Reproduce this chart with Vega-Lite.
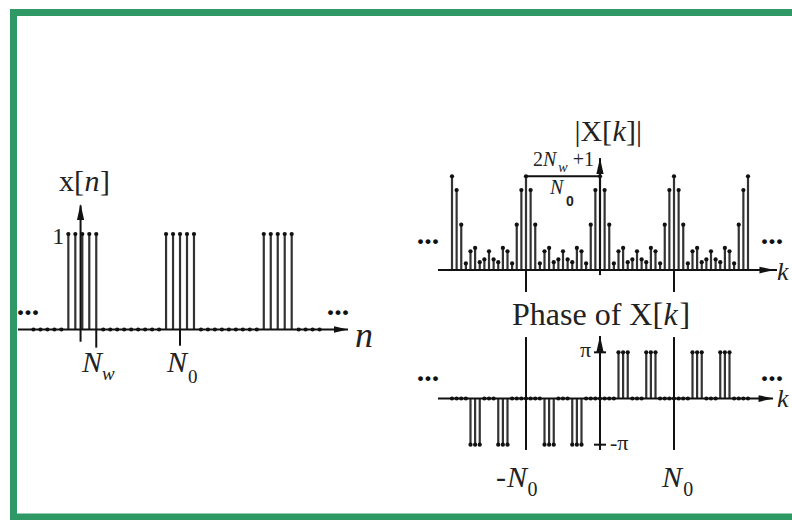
{
  "$schema": "https://vega.github.io/schema/vega-lite/v6.json",
  "width": 789,
  "height": 504.5,
  "autosize": {"type": "none"},
  "padding": {"left": 13.5, "top": 12.5, "right": -10.5, "bottom": 3},
  "background": "white",
  "config": {"view": {"stroke": "#2f9966", "strokeWidth": 7}},
  "datasets": {
    "xn": [
      {"n": -7, "v": 0}, {"n": -6, "v": 0}, {"n": -5, "v": 0}, {"n": -4, "v": 0}, {"n": -3, "v": 0},
      {"n": -2, "v": 1}, {"n": -1, "v": 1}, {"n": 0, "v": 1}, {"n": 1, "v": 1}, {"n": 2, "v": 1},
      {"n": 3, "v": 0}, {"n": 4, "v": 0}, {"n": 5, "v": 0}, {"n": 6, "v": 0}, {"n": 7, "v": 0},
      {"n": 8, "v": 0}, {"n": 9, "v": 0}, {"n": 10, "v": 0}, {"n": 11, "v": 0},
      {"n": 12, "v": 1}, {"n": 13, "v": 1}, {"n": 14, "v": 1}, {"n": 15, "v": 1}, {"n": 16, "v": 1},
      {"n": 17, "v": 0}, {"n": 18, "v": 0}, {"n": 19, "v": 0}, {"n": 20, "v": 0}, {"n": 21, "v": 0},
      {"n": 22, "v": 0}, {"n": 23, "v": 0}, {"n": 24, "v": 0}, {"n": 25, "v": 0},
      {"n": 26, "v": 1}, {"n": 27, "v": 1}, {"n": 28, "v": 1}, {"n": 29, "v": 1}, {"n": 30, "v": 1},
      {"n": 31, "v": 0}, {"n": 32, "v": 0}, {"n": 33, "v": 0}, {"n": 34, "v": 0}
    ],
    "leftRules": [
      {"n": -9.21, "n2": 38.07, "v": 0, "v2": 0},
      {"n": -0.25, "n2": -0.25, "v": -0.128, "v2": 1.3},
      {"n": 2, "n2": 2, "v": 0, "v2": -0.19},
      {"n": 14, "n2": 14, "v": 0, "v2": -0.17}
    ],
    "leftArrowR": [{"n": 37.06, "v": 0}],
    "leftArrowU": [{"n": -0.25, "v": 1.23}],
    "leftTextSerif30": [
      {"n": -3.338, "v": 1.4503, "t": "x["},
      {"n": 2.536, "v": 1.4503, "t": "]"}
    ],
    "leftTextItalic30": [
      {"n": 0.315, "v": 1.4503, "t": "n"},
      {"n": -0.043, "v": -0.445, "t": "N"},
      {"n": 12.135, "v": -0.445, "t": "N"}
    ],
    "leftTextItalic36": [{"n": 39.07, "v": -0.1832, "t": "n"}],
    "leftTextItalic19": [{"n": 2.822, "v": -0.529, "t": "w"}],
    "leftTextSerif19": [{"n": 15.14, "v": -0.56, "t": "0"}],
    "leftTextSerif24": [{"n": -4.3, "v": 0.9, "t": "1"}],
    "leftDots": [
      {"n": -9.39, "v": 0.1518, "t": "..."},
      {"n": 35.02, "v": 0.1518, "t": "..."}
    ],
    "xk": [
      {"k": -32, "m": 0.3125}, {"k": -31, "m": 0.2664}, {"k": -30, "m": 0.1509}, {"k": -29, "m": 0.0219},
      {"k": -28, "m": 0.0625}, {"k": -27, "m": 0.0737}, {"k": -26, "m": 0.0259}, {"k": -25, "m": 0.0354},
      {"k": -24, "m": 0.0625}, {"k": -23, "m": 0.0354}, {"k": -22, "m": 0.0259}, {"k": -21, "m": 0.0737},
      {"k": -20, "m": 0.0625}, {"k": -19, "m": 0.0219}, {"k": -18, "m": 0.1509}, {"k": -17, "m": 0.2664},
      {"k": -16, "m": 0.3125}, {"k": -15, "m": 0.2664}, {"k": -14, "m": 0.1509}, {"k": -13, "m": 0.0219},
      {"k": -12, "m": 0.0625}, {"k": -11, "m": 0.0737}, {"k": -10, "m": 0.0259}, {"k": -9, "m": 0.0354},
      {"k": -8, "m": 0.0625}, {"k": -7, "m": 0.0354}, {"k": -6, "m": 0.0259}, {"k": -5, "m": 0.0737},
      {"k": -4, "m": 0.0625}, {"k": -3, "m": 0.0219}, {"k": -2, "m": 0.1509}, {"k": -1, "m": 0.2664},
      {"k": 0, "m": 0.3125},
      {"k": 1, "m": 0.2664}, {"k": 2, "m": 0.1509}, {"k": 3, "m": 0.0219}, {"k": 4, "m": 0.0625},
      {"k": 5, "m": 0.0737}, {"k": 6, "m": 0.0259}, {"k": 7, "m": 0.0354}, {"k": 8, "m": 0.0625},
      {"k": 9, "m": 0.0354}, {"k": 10, "m": 0.0259}, {"k": 11, "m": 0.0737}, {"k": 12, "m": 0.0625},
      {"k": 13, "m": 0.0219}, {"k": 14, "m": 0.1509}, {"k": 15, "m": 0.2664}, {"k": 16, "m": 0.3125},
      {"k": 17, "m": 0.2664}, {"k": 18, "m": 0.1509}, {"k": 19, "m": 0.0219}, {"k": 20, "m": 0.0625},
      {"k": 21, "m": 0.0737}, {"k": 22, "m": 0.0259}, {"k": 23, "m": 0.0354}, {"k": 24, "m": 0.0625},
      {"k": 25, "m": 0.0354}, {"k": 26, "m": 0.0259}, {"k": 27, "m": 0.0737}, {"k": 28, "m": 0.0625},
      {"k": 29, "m": 0.0219}, {"k": 30, "m": 0.1509}, {"k": 31, "m": 0.2664}, {"k": 32, "m": 0.3125}
    ],
    "topRules": [
      {"k": -35.03, "k2": 38.27, "m": 0, "m2": 0},
      {"k": 0, "k2": 0, "m": -0.017, "m2": 0.373},
      {"k": -16, "k2": -16, "m": 0, "m2": -0.0733},
      {"k": 16, "k2": 16, "m": 0, "m2": -0.0733},
      {"k": -16, "k2": 0, "m": 0.3125, "m2": 0.3125}
    ],
    "topArrowR": [{"k": 36.1, "m": 0}],
    "topArrowU": [{"k": 0, "m": 0.3467}],
    "topTextSerif30": [
      {"k": -5.535, "m": 0.43, "t": "|X["},
      {"k": 5.622, "m": 0.43, "t": "]|"}
    ],
    "topTextItalic30": [{"k": 2.703, "m": 0.43, "t": "k"}],
    "topTextSerif20": [
      {"k": -14.486, "m": 0.3467, "t": "2"},
      {"k": -5.9, "m": 0.3467, "t": "+1"}
    ],
    "topTextItalic20": [
      {"k": -12.324, "m": 0.3467, "t": "N"},
      {"k": -10.811, "m": 0.2533, "t": "N"}
    ],
    "topTextItalic14": [{"k": -9.0, "m": 0.3267, "t": "w"}],
    "topTextSans14": [{"k": -7.351, "m": 0.2133, "t": "0"}],
    "topDots": [
      {"k": -39.62, "m": 0.0867, "t": "..."},
      {"k": 34.76, "m": 0.0867, "t": "..."}
    ],
    "topTextItalic26": [{"k": 38.27, "m": -0.0333, "t": "k"}],
    "phase": [
      {"k": -32, "p": 0}, {"k": -31, "p": 0}, {"k": -30, "p": 0}, {"k": -29, "p": 0},
      {"k": -28, "p": -3.1416}, {"k": -27, "p": -3.1416}, {"k": -26, "p": -3.1416}, {"k": -25, "p": 0},
      {"k": -24, "p": 0}, {"k": -23, "p": 0}, {"k": -22, "p": -3.1416}, {"k": -21, "p": -3.1416},
      {"k": -20, "p": -3.1416}, {"k": -19, "p": 0}, {"k": -18, "p": 0}, {"k": -17, "p": 0},
      {"k": -16, "p": 0}, {"k": -15, "p": 0}, {"k": -14, "p": 0}, {"k": -13, "p": 0},
      {"k": -12, "p": -3.1416}, {"k": -11, "p": -3.1416}, {"k": -10, "p": -3.1416}, {"k": -9, "p": 0},
      {"k": -8, "p": 0}, {"k": -7, "p": 0}, {"k": -6, "p": -3.1416}, {"k": -5, "p": -3.1416},
      {"k": -4, "p": -3.1416}, {"k": -3, "p": 0}, {"k": -2, "p": 0}, {"k": -1, "p": 0},
      {"k": 0, "p": 0},
      {"k": 1, "p": 0}, {"k": 2, "p": 0}, {"k": 3, "p": 0}, {"k": 4, "p": 3.1416},
      {"k": 5, "p": 3.1416}, {"k": 6, "p": 3.1416}, {"k": 7, "p": 0}, {"k": 8, "p": 0},
      {"k": 9, "p": 0}, {"k": 10, "p": 3.1416}, {"k": 11, "p": 3.1416}, {"k": 12, "p": 3.1416},
      {"k": 13, "p": 0}, {"k": 14, "p": 0}, {"k": 15, "p": 0}, {"k": 16, "p": 0},
      {"k": 17, "p": 0}, {"k": 18, "p": 0}, {"k": 19, "p": 0}, {"k": 20, "p": 3.1416},
      {"k": 21, "p": 3.1416}, {"k": 22, "p": 3.1416}, {"k": 23, "p": 0}, {"k": 24, "p": 0},
      {"k": 25, "p": 0}, {"k": 26, "p": 3.1416}, {"k": 27, "p": 3.1416}, {"k": 28, "p": 3.1416},
      {"k": 29, "p": 0}, {"k": 30, "p": 0}, {"k": 31, "p": 0}, {"k": 32, "p": 0}
    ],
    "botRules": [
      {"k": -35.03, "k2": 37.4, "p": 0, "p2": 0},
      {"k": 0, "k2": 0, "p": -3.5, "p2": 4.25},
      {"k": -16, "k2": -16, "p": -3.5, "p2": 4.18},
      {"k": 16, "k2": 16, "p": -3.5, "p2": 4.18},
      {"k": -1.3, "k2": 1.3, "p": 3.1416, "p2": 3.1416},
      {"k": -1.3, "k2": 1.3, "p": -3.1416, "p2": -3.1416}
    ],
    "botArrowR": [{"k": 35.9, "p": 0}],
    "botArrowU": [{"k": 0, "p": 3.71}],
    "botTextSerif32": [
      {"k": -19.027, "p": 5.0, "t": "Phase of X["},
      {"k": 17.189, "p": 5.0, "t": "]"}
    ],
    "botTextItalic32": [{"k": 13.73, "p": 5.0, "t": "k"}],
    "botTextSerif22": [
      {"k": -4.324, "p": 2.823, "t": "π"},
      {"k": 2.162, "p": -3.503, "t": "-π"}
    ],
    "botTextSerif30": [{"k": -22.5, "p": -6.02, "t": "-"}],
    "botTextItalic30": [
      {"k": -20.108, "p": -6.02, "t": "N"},
      {"k": 13.405, "p": -6.02, "t": "N"}
    ],
    "botTextSerif20": [
      {"k": -15.7, "p": -6.633, "t": "0"},
      {"k": 18.0, "p": -6.633, "t": "0"}
    ],
    "botDots": [
      {"k": -39.62, "p": 1.19, "t": "..."},
      {"k": 34.76, "p": 1.19, "t": "..."}
    ],
    "botTextItalic26": [{"k": 38.27, "p": -0.578, "t": "k"}]
  },
  "layer": [
    {
      "encoding": {
        "x": {"field": "n", "type": "quantitative", "scale": {"domain": [-9.8567, 103.181], "nice": false, "zero": false}, "axis": null},
        "y": {"field": "v", "type": "quantitative", "scale": {"domain": [-1.9634, 3.3194], "nice": false, "zero": false}, "axis": null}
      },
      "layer": [
        {"data": {"name": "xn"}, "mark": {"type": "rule", "color": "#333333", "strokeWidth": 2.2}, "encoding": {"y2": {"datum": 0}}},
        {"data": {"name": "xn"}, "mark": {"type": "point", "filled": true, "shape": "circle", "size": 18, "color": "#111111", "opacity": 1}},
        {"data": {"name": "leftRules"}, "mark": {"type": "rule", "color": "#111111", "strokeWidth": 2}, "encoding": {"x2": {"field": "n2"}, "y2": {"field": "v2"}}},
        {"data": {"name": "leftArrowR"}, "mark": {"type": "point", "filled": true, "shape": "M-1,-0.45L1,0L-1,0.45Z", "size": 196, "color": "#111111", "opacity": 1}},
        {"data": {"name": "leftArrowU"}, "mark": {"type": "point", "filled": true, "shape": "M-0.45,1L0,-1L0.45,1Z", "size": 256, "color": "#111111", "opacity": 1}},
        {"data": {"name": "leftTextSerif30"}, "mark": {"type": "text", "font": "Liberation Serif", "fontSize": 30, "align": "left", "baseline": "alphabetic", "color": "#222222"}, "encoding": {"text": {"field": "t"}}},
        {"data": {"name": "leftTextItalic30"}, "mark": {"type": "text", "font": "Liberation Serif", "fontStyle": "italic", "fontSize": 30, "align": "left", "baseline": "alphabetic", "color": "#222222"}, "encoding": {"text": {"field": "t"}}},
        {"data": {"name": "leftTextItalic36"}, "mark": {"type": "text", "font": "Liberation Serif", "fontStyle": "italic", "fontSize": 36, "align": "left", "baseline": "alphabetic", "color": "#222222"}, "encoding": {"text": {"field": "t"}}},
        {"data": {"name": "leftTextItalic19"}, "mark": {"type": "text", "font": "Liberation Serif", "fontStyle": "italic", "fontSize": 19, "align": "left", "baseline": "alphabetic", "color": "#222222"}, "encoding": {"text": {"field": "t"}}},
        {"data": {"name": "leftTextSerif19"}, "mark": {"type": "text", "font": "Liberation Serif", "fontSize": 19, "align": "left", "baseline": "alphabetic", "color": "#222222"}, "encoding": {"text": {"field": "t"}}},
        {"data": {"name": "leftTextSerif24"}, "mark": {"type": "text", "font": "Liberation Serif", "fontSize": 24, "align": "left", "baseline": "alphabetic", "color": "#222222"}, "encoding": {"text": {"field": "t"}}},
        {"data": {"name": "leftDots"}, "mark": {"type": "text", "font": "Liberation Serif", "fontWeight": "bold", "fontSize": 30, "align": "left", "baseline": "alphabetic", "color": "#111111"}, "encoding": {"text": {"field": "t"}}}
      ]
    },
    {
      "encoding": {
        "x": {"field": "k", "type": "quantitative", "scale": {"domain": [-126.811, 43.784], "nice": false, "zero": false}, "axis": null},
        "y": {"field": "m", "type": "quantitative", "scale": {"domain": [-0.82333, 0.85833], "nice": false, "zero": false}, "axis": null}
      },
      "layer": [
        {"data": {"name": "xk"}, "mark": {"type": "rule", "color": "#333333", "strokeWidth": 2.2}, "encoding": {"y2": {"datum": 0}}},
        {"data": {"name": "xk"}, "mark": {"type": "point", "filled": true, "shape": "circle", "size": 18, "color": "#111111", "opacity": 1}},
        {"data": {"name": "topRules"}, "mark": {"type": "rule", "color": "#111111", "strokeWidth": 2}, "encoding": {"x2": {"field": "k2"}, "y2": {"field": "m2"}}},
        {"data": {"name": "topArrowR"}, "mark": {"type": "point", "filled": true, "shape": "M-1,-0.45L1,0L-1,0.45Z", "size": 225, "color": "#111111", "opacity": 1}},
        {"data": {"name": "topArrowU"}, "mark": {"type": "point", "filled": true, "shape": "M-0.45,1L0,-1L0.45,1Z", "size": 256, "color": "#111111", "opacity": 1}},
        {"data": {"name": "topTextSerif30"}, "mark": {"type": "text", "font": "Liberation Serif", "fontSize": 30, "align": "left", "baseline": "alphabetic", "color": "#222222"}, "encoding": {"text": {"field": "t"}}},
        {"data": {"name": "topTextItalic30"}, "mark": {"type": "text", "font": "Liberation Serif", "fontStyle": "italic", "fontSize": 30, "align": "left", "baseline": "alphabetic", "color": "#222222"}, "encoding": {"text": {"field": "t"}}},
        {"data": {"name": "topTextSerif20"}, "mark": {"type": "text", "font": "Liberation Serif", "fontSize": 20, "align": "left", "baseline": "alphabetic", "color": "#222222"}, "encoding": {"text": {"field": "t"}}},
        {"data": {"name": "topTextItalic20"}, "mark": {"type": "text", "font": "Liberation Serif", "fontStyle": "italic", "fontSize": 20, "align": "left", "baseline": "alphabetic", "color": "#222222"}, "encoding": {"text": {"field": "t"}}},
        {"data": {"name": "topTextItalic14"}, "mark": {"type": "text", "font": "Liberation Serif", "fontStyle": "italic", "fontSize": 14, "align": "left", "baseline": "alphabetic", "color": "#222222"}, "encoding": {"text": {"field": "t"}}},
        {"data": {"name": "topTextSans14"}, "mark": {"type": "text", "font": "Liberation Sans", "fontWeight": "bold", "fontSize": 14, "align": "left", "baseline": "alphabetic", "color": "#222222"}, "encoding": {"text": {"field": "t"}}},
        {"data": {"name": "topDots"}, "mark": {"type": "text", "font": "Liberation Serif", "fontWeight": "bold", "fontSize": 30, "align": "left", "baseline": "alphabetic", "color": "#111111"}, "encoding": {"text": {"field": "t"}}},
        {"data": {"name": "topTextItalic26"}, "mark": {"type": "text", "font": "Liberation Serif", "fontStyle": "italic", "fontSize": 26, "align": "left", "baseline": "alphabetic", "color": "#222222"}, "encoding": {"text": {"field": "t"}}}
      ]
    },
    {
      "encoding": {
        "x": {"field": "k", "type": "quantitative", "scale": {"domain": [-126.811, 43.784], "nice": false, "zero": false}, "axis": null},
        "y": {"field": "p", "type": "quantitative", "scale": {"domain": [-8.0612, 26.2585], "nice": false, "zero": false}, "axis": null}
      },
      "layer": [
        {"data": {"name": "phase"}, "mark": {"type": "rule", "color": "#333333", "strokeWidth": 2.2}, "encoding": {"y2": {"datum": 0}}},
        {"data": {"name": "phase"}, "mark": {"type": "point", "filled": true, "shape": "circle", "size": 18, "color": "#111111", "opacity": 1}},
        {"data": {"name": "botRules"}, "mark": {"type": "rule", "color": "#111111", "strokeWidth": 2}, "encoding": {"x2": {"field": "k2"}, "y2": {"field": "p2"}}},
        {"data": {"name": "botArrowR"}, "mark": {"type": "point", "filled": true, "shape": "M-1,-0.45L1,0L-1,0.45Z", "size": 225, "color": "#111111", "opacity": 1}},
        {"data": {"name": "botArrowU"}, "mark": {"type": "point", "filled": true, "shape": "M-0.45,1L0,-1L0.45,1Z", "size": 256, "color": "#111111", "opacity": 1}},
        {"data": {"name": "botTextSerif32"}, "mark": {"type": "text", "font": "Liberation Serif", "fontSize": 32, "align": "left", "baseline": "alphabetic", "color": "#222222"}, "encoding": {"text": {"field": "t"}}},
        {"data": {"name": "botTextItalic32"}, "mark": {"type": "text", "font": "Liberation Serif", "fontStyle": "italic", "fontSize": 32, "align": "left", "baseline": "alphabetic", "color": "#222222"}, "encoding": {"text": {"field": "t"}}},
        {"data": {"name": "botTextSerif22"}, "mark": {"type": "text", "font": "Liberation Serif", "fontSize": 22, "align": "left", "baseline": "alphabetic", "color": "#222222"}, "encoding": {"text": {"field": "t"}}},
        {"data": {"name": "botTextSerif30"}, "mark": {"type": "text", "font": "Liberation Serif", "fontSize": 30, "align": "left", "baseline": "alphabetic", "color": "#222222"}, "encoding": {"text": {"field": "t"}}},
        {"data": {"name": "botTextItalic30"}, "mark": {"type": "text", "font": "Liberation Serif", "fontStyle": "italic", "fontSize": 30, "align": "left", "baseline": "alphabetic", "color": "#222222"}, "encoding": {"text": {"field": "t"}}},
        {"data": {"name": "botTextSerif20"}, "mark": {"type": "text", "font": "Liberation Serif", "fontSize": 20, "align": "left", "baseline": "alphabetic", "color": "#222222"}, "encoding": {"text": {"field": "t"}}},
        {"data": {"name": "botDots"}, "mark": {"type": "text", "font": "Liberation Serif", "fontWeight": "bold", "fontSize": 30, "align": "left", "baseline": "alphabetic", "color": "#111111"}, "encoding": {"text": {"field": "t"}}},
        {"data": {"name": "botTextItalic26"}, "mark": {"type": "text", "font": "Liberation Serif", "fontStyle": "italic", "fontSize": 26, "align": "left", "baseline": "alphabetic", "color": "#222222"}, "encoding": {"text": {"field": "t"}}}
      ]
    }
  ],
  "resolve": {"scale": {"x": "independent", "y": "independent"}}
}
